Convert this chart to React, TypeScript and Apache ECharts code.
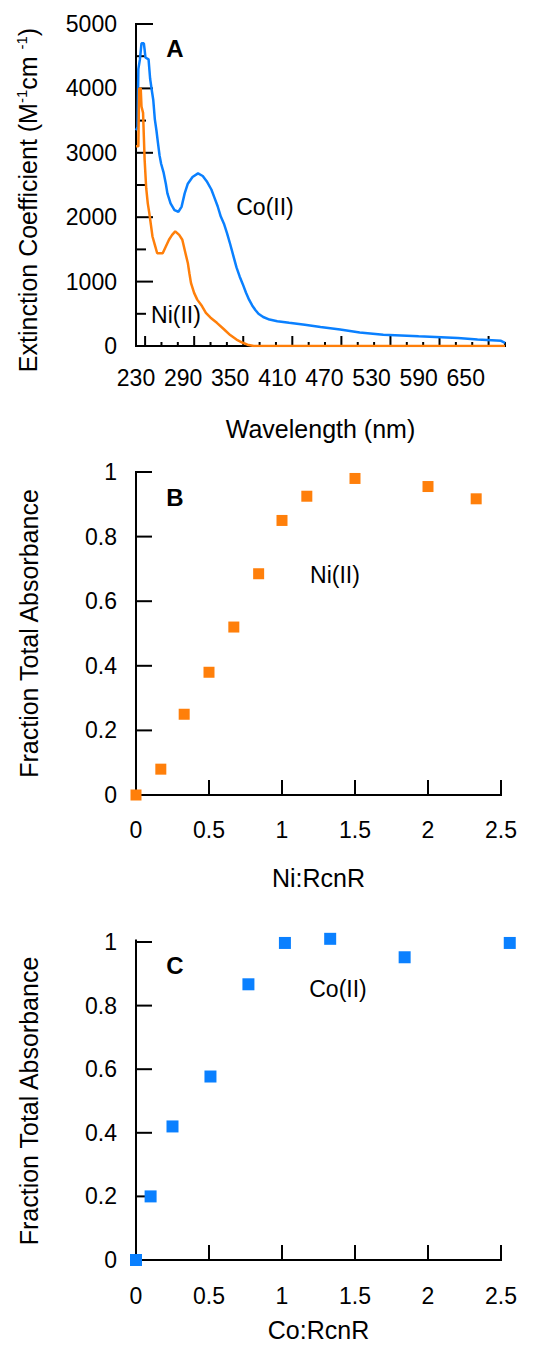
import React, { useEffect, useRef } from 'react';
import * as echarts from 'echarts';

const FONT = 'Liberation Sans, Arial, sans-serif';
const ORANGE = '#FF7F0A';
const BLUE = '#0A80FF';

// Panel A: extinction spectra
const coWavelength = [230,232,233,235,237,240,241,242,246,248,250,252,254,256,258,260,262,265,268,270,274,279,284,288,292,296,302,309,315,320,326,330,334,338,342,346,350,354,358,362,366,370,374,378,382,386,392,400,410,425,445,465,490,515,545,590,640,665,695,700];
const coExtinction = [3350,3400,4300,4450,4700,4700,4600,4480,4450,4150,3980,3820,3520,3350,3150,2960,2830,2700,2520,2370,2215,2110,2085,2160,2370,2520,2625,2680,2640,2560,2430,2300,2170,2010,1900,1750,1580,1400,1220,1080,960,830,720,630,560,500,450,410,385,360,330,295,255,210,175,150,125,100,80,50];
const niWavelength = [230,233,234,236,237,239,240,241,243,245,247,249,251,254,257,264,268,272,276,280,285,289,293,296,298,300,304,308,314,319,325,333,342,350,358,366,372,380,700];
const niExtinction = [3100,3100,4000,4000,3720,3620,3250,2890,2450,2215,2060,1880,1700,1570,1440,1440,1545,1650,1725,1780,1725,1650,1440,1290,1130,980,825,720,620,515,440,360,260,170,100,50,20,0,0];
const aXLabels = [230, 290, 350, 410, 470, 530, 590, 650];
const aYMajorTicks = [0, 1000, 2000, 3000, 4000, 5000];
const aYMinorTicks = [500, 1500, 2500, 3500, 4500];
const aTickStart = 241.6;
const aTickStep = 62.5;

// Panels B and C: ticks
const ratioTicks = [0.5, 1, 1.5, 2, 2.5];
const fractionTicks = [0.2, 0.4, 0.6, 0.8, 1];

// Panel B: Ni titration
const niRatio = [0, 0.17, 0.33, 0.5, 0.67, 0.84, 1.0, 1.17, 1.5, 2.0, 2.33];
const niFraction = [0, 0.08, 0.25, 0.38, 0.52, 0.685, 0.85, 0.925, 0.98, 0.955, 0.917];

// Panel C: Co titration
const coRatio = [0, 0.1, 0.25, 0.51, 0.77, 1.02, 1.33, 1.84, 2.56];
const coFraction = [0, 0.2, 0.42, 0.577, 0.867, 0.997, 1.01, 0.952, 0.997];

const zip = (xs: number[], ys: number[]) => xs.map((x, i) => [x, ys[i]]);
const labelStyle = () => ({ color: '#000', fontSize: 23, fontFamily: FONT });
const nameStyle = () => ({ color: '#000', fontSize: 25, fontFamily: FONT });

// axis lines and inward ticks as filled black rects placed through the chart's scales
function bar(data: number[][], size: number[], offset: number[]) {
  return {
    type: 'scatter',
    data,
    symbol: 'rect',
    symbolSize: size,
    symbolOffset: offset,
    clip: false,
    silent: true,
    z: 2,
    itemStyle: { color: '#000', opacity: 1 },
    emphasis: { disabled: true },
  };
}

function frame(xMin: number, xMax: number, yMin: number, yMax: number, w: number, h: number,
  xMajor: number[], xMajorLen: number, xMinor: number[], xMinorLen: number,
  yMajor: number[], yMajorLen: number, yMinor: number[], yMinorLen: number) {
  const list: any[] = [
    bar([[xMin, (yMin + yMax) / 2]], [2, h + 2], [0, 0]),
    bar([[(xMin + xMax) / 2, yMin]], [w + 2, 2], [0, 0]),
    bar(yMajor.map((v) => [xMin, v]), [yMajorLen, 2], [yMajorLen / 2, 0]),
    bar(xMajor.map((v) => [v, yMin]), [2, xMajorLen], [0, -xMajorLen / 2]),
  ];
  if (yMinor.length) list.push(bar(yMinor.map((v) => [xMin, v]), [yMinorLen, 2], [yMinorLen / 2, 0]));
  if (xMinor.length) list.push(bar(xMinor.map((v) => [v, yMin]), [2, xMinorLen], [0, -xMinorLen / 2]));
  return list;
}

const txt = (text: string, x: number, y: number, bold = false) => ({
  type: 'text',
  x,
  y,
  style: {
    text,
    fill: '#000',
    font: `${bold ? 'bold ' : ''}${bold ? 24 : 23}px ${FONT}`,
    align: 'center',
    verticalAlign: 'middle',
  },
});

function optionA() {
  const xMajor: number[] = [];
  const xMinor: number[] = [];
  for (let j = 0; ; j++) {
    const v = aTickStart + (aTickStep / 3) * j;
    if (v > 700.5) break;
    if (j % 3 === 0) xMajor.push(v);
    else xMinor.push(v);
  }
  return {
    animation: false,
    grid: [{ left: 136, top: 24, width: 369, height: 322 }],
    xAxis: [
      {
        type: 'value',
        min: 230,
        max: 700,
        position: 'bottom',
        axisLine: { show: false, onZero: false },
        axisTick: { show: false },
        axisLabel: { show: true, margin: 20, ...labelStyle(), customValues: aXLabels, formatter: (v: number) => String(v) },
        splitLine: { show: false },
        name: 'Wavelength (nm)',
        nameLocation: 'middle',
        nameGap: 70,
        nameTextStyle: nameStyle(),
      },
    ],
    yAxis: [
      {
        type: 'value',
        min: 0,
        max: 5000,
        interval: 1000,
        axisLine: { show: false, onZero: false },
        axisTick: { show: false },
        axisLabel: { show: true, margin: 19, ...labelStyle(), formatter: (v: number) => String(v) },
        splitLine: { show: false },
        name: 'Extinction Coefficient (M{s|-1}cm {s|-1})',
        nameLocation: 'middle',
        nameGap: 94,
        nameTextStyle: {
          ...nameStyle(),
          padding: [0, 30, 0, 0],
          rich: {
            s: { fontSize: 15, fontFamily: FONT, color: '#000', verticalAlign: 'bottom', padding: [0, 0, 13, 0] },
          },
        },
      },
    ],
    series: [
      ...frame(230, 700, 0, 5000, 369, 322, xMajor, 10, xMinor, 4, aYMajorTicks, 17, aYMinorTicks, 10),
      {
        type: 'line',
        data: zip(coWavelength, coExtinction),
        showSymbol: false,
        symbol: 'none',
        z: 3,
        lineStyle: { color: BLUE, width: 2.5 },
        itemStyle: { color: BLUE },
      },
      {
        type: 'line',
        data: zip(niWavelength, niExtinction),
        showSymbol: false,
        symbol: 'none',
        z: 4,
        lineStyle: { color: ORANGE, width: 2.5 },
        itemStyle: { color: ORANGE },
      },
    ],
    graphic: [txt('A', 175, 48, true), txt('Co(II)', 265, 207), txt('Ni(II)', 176, 315)],
  };
}

function optionRatio(top: number, height: number, xs: number[], ys: number[], color: string, size: number,
  xName: string, labelMargin: number, nameGap: number, texts: any[]) {
  return {
    animation: false,
    grid: [{ left: 136, top, width: 365, height }],
    xAxis: [
      {
        type: 'value',
        min: 0,
        max: 2.5,
        interval: 0.5,
        axisLine: { show: false, onZero: false },
        axisTick: { show: false },
        axisLabel: { show: true, margin: labelMargin, ...labelStyle(), formatter: (v: number) => String(v) },
        splitLine: { show: false },
        name: xName,
        nameLocation: 'middle',
        nameGap,
        nameTextStyle: nameStyle(),
      },
    ],
    yAxis: [
      {
        type: 'value',
        min: 0,
        max: 1,
        interval: 0.2,
        axisLine: { show: false, onZero: false },
        axisTick: { show: false },
        axisLabel: { show: true, margin: 19, ...labelStyle(), formatter: (v: number) => String(Math.round(v * 10) / 10) },
        splitLine: { show: false },
        name: 'Fraction Total Absorbance',
        nameLocation: 'middle',
        nameGap: 95,
        nameTextStyle: nameStyle(),
      },
    ],
    series: [
      ...frame(0, 2.5, 0, 1, 365, height, ratioTicks, 15, [], 0, fractionTicks, 16, [], 0),
      {
        type: 'scatter',
        data: zip(xs, ys),
        symbol: 'rect',
        symbolSize: size,
        clip: false,
        z: 3,
        itemStyle: { color, opacity: 1 },
      },
    ],
    graphic: texts,
  };
}

export default function App() {
  const refA = useRef<HTMLDivElement>(null);
  const refB = useRef<HTMLDivElement>(null);
  const refC = useRef<HTMLDivElement>(null);
  useEffect(() => {
    document.body.style.margin = '0';
    const charts: any[] = [];
    const mk = (el: HTMLDivElement | null, opt: any) => {
      if (!el) return;
      const c = echarts.init(el, null, { renderer: 'svg' });
      c.setOption(opt);
      charts.push(c);
    };
    mk(refA.current, optionA());
    mk(refB.current, optionRatio(22, 323, niRatio, niFraction, ORANGE, 11, 'Ni:RcnR', 23, 70,
      [txt('B', 175, 47, true), txt('Ni(II)', 335, 125)]));
    mk(refC.current, optionRatio(42, 321, coRatio, coFraction, BLUE, 12, 'Co:RcnR', 24, 57,
      [txt('C', 175, 65, true), txt('Co(II)', 338, 89)]));
    return () => charts.forEach((c) => c.dispose());
  }, []);
  return (
    <div style={{ width: 549, height: 1347, background: '#fff' }}>
      <div ref={refA} style={{ width: 549, height: 450 }} />
      <div ref={refB} style={{ width: 549, height: 450 }} />
      <div ref={refC} style={{ width: 549, height: 447 }} />
    </div>
  );
}
